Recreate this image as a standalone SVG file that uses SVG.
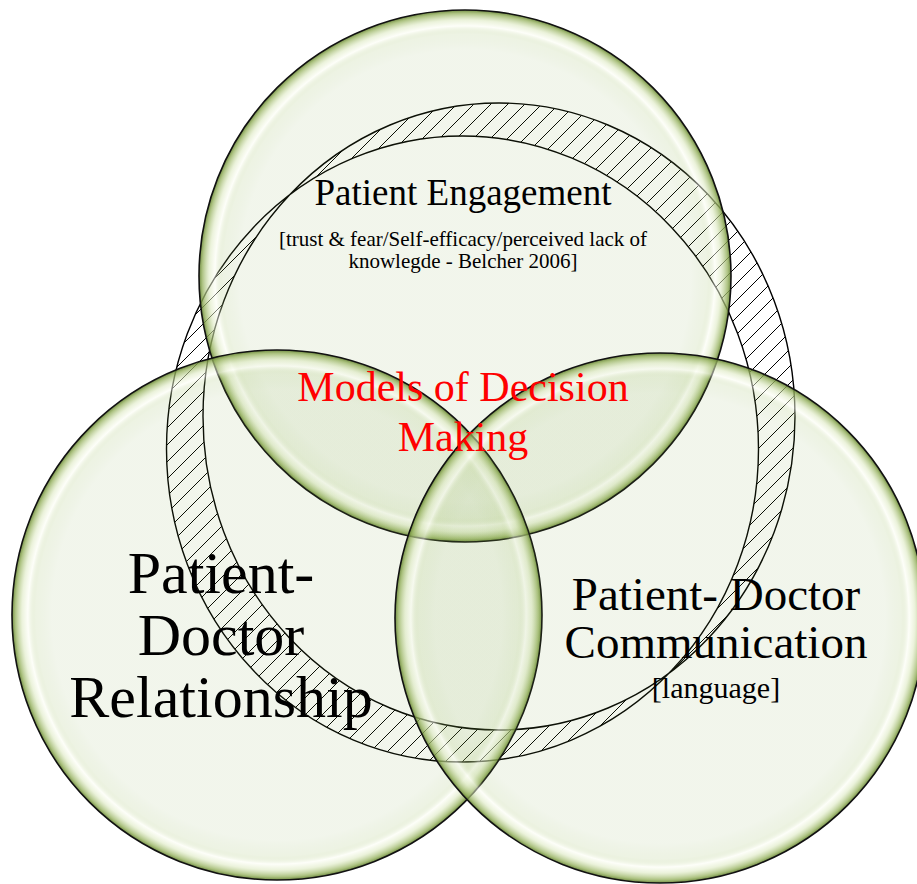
<svg xmlns="http://www.w3.org/2000/svg" width="917" height="884" viewBox="0 0 917 884">
  <defs>
    <!-- translucent bubble fill: pale green body, bright inner glow, olive rim -->
    <radialGradient id="bubble" cx="0.5" cy="0.5" r="0.5">
      <stop offset="0" stop-color="#78a03c" stop-opacity="0.10"/>
      <stop offset="0.85" stop-color="#78a03c" stop-opacity="0.10"/>
      <stop offset="0.91" stop-color="#9cbc64" stop-opacity="0.18"/>
      <stop offset="0.94" stop-color="#fbfdf2" stop-opacity="0.5"/>
      <stop offset="0.962" stop-color="#dbe8be" stop-opacity="0.55"/>
      <stop offset="0.988" stop-color="#94b05c" stop-opacity="0.78"/>
      <stop offset="1" stop-color="#5f7d2c" stop-opacity="0.9"/>
    </radialGradient>
    <!-- "/" hatching for the band, 17px apart horizontally -->
    <pattern id="hatch" patternUnits="userSpaceOnUse" width="17" height="17">
      <path d="M-4 4 L4 -4 M0 17 L17 0 M13 21 L21 13" stroke="#000" stroke-width="1" fill="none"/>
    </pattern>
  </defs>
  <style>
    .bubble { fill: url(#bubble); stroke: #111; stroke-width: 1.6; }
    .band { fill: url(#hatch); fill-rule: evenodd; stroke: #000; stroke-width: 1.4; }
    .lbl { font-family: "Liberation Serif", "Times New Roman", serif; fill: #000; text-anchor: middle; }
    .red { fill: #ff0000; }
  </style>

  <rect width="917" height="884" fill="#ffffff"/>

  <!-- hatched band: the area covered by exactly one of two offset ellipses -->
  <g id="decision-band">
    <path class="band" d="M166.5 449 A296 313 0 1 0 758.5 449 A296 313 0 1 0 166.5 449 Z M203 416.5 A296 313.5 0 1 0 795 416.5 A296 313.5 0 1 0 203 416.5 Z"/>
  </g>

  <g id="patient-engagement">
    <circle class="bubble" cx="465" cy="276" r="266"/>
  </g>
  <g id="patient-doctor-relationship">
    <circle class="bubble" cx="277" cy="615" r="265"/>
  </g>
  <g id="patient-doctor-communication">
    <circle class="bubble" cx="660" cy="618" r="265"/>
  </g>

  <g id="labels">
    <text class="lbl" x="463" y="205" font-size="37">Patient Engagement</text>
    <text class="lbl" x="463" y="246" font-size="21">[trust &amp; fear/Self-efficacy/perceived lack of</text>
    <text class="lbl" x="463" y="268" font-size="21">knowlegde - Belcher 2006]</text>

    <text class="lbl red" x="463" y="401" font-size="42">Models of Decision</text>
    <text class="lbl red" x="463" y="451" font-size="42">Making</text>

    <text class="lbl" x="221" y="593" font-size="60">Patient-</text>
    <text class="lbl" x="221" y="655" font-size="60">Doctor</text>
    <text class="lbl" x="221" y="717" font-size="60">Relationship</text>

    <text class="lbl" x="716" y="610" font-size="47">Patient- Doctor</text>
    <text class="lbl" x="716" y="658" font-size="47">Communication</text>
    <text class="lbl" x="716" y="698" font-size="30">[language]</text>
  </g>
</svg>
